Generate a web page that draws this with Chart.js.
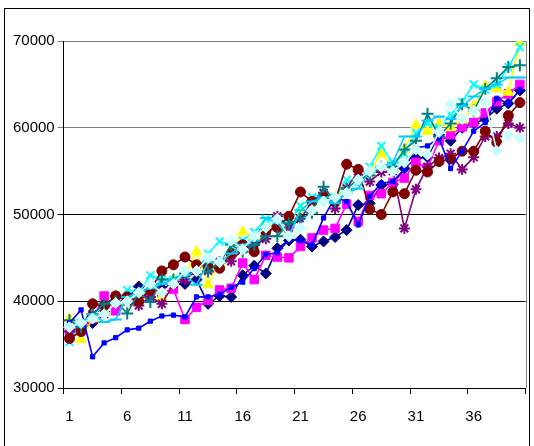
<!DOCTYPE html>
<html>
<head>
<meta charset="utf-8">
<script src="https://cdn.jsdelivr.net/npm/chart.js@4/dist/chart.umd.min.js"></script>
<style>
  html, body { margin: 0; padding: 0; background: #fff; }
  #wrap { width: 534px; height: 446px; position: relative; }
</style>
</head>
<body>
<div id="wrap"><canvas id="chart" width="534" height="446"></canvas></div>
<script>
// categories 1..40
const categories = ['1','2','3','4','5','6','7','8','9','10','11','12','13','14','15','16','17','18','19','20',
                    '21','22','23','24','25','26','27','28','29','30','31','32','33','34','35','36','37','38','39','40'];
const yTicks = [30000, 40000, 50000, 60000, 70000];

// series values
const navy = [37000, 36600, 37500, 38800, 39600, 40400, 41700, 41000, 41500, 42000, 42000, 42500, 39700, 40600, 40500, 43000, 44100, 43200, 46100, 47000,
              47100, 46300, 46900, 47400, 48200, 51100, 51300, 53400, 53500, 55300, 56500, 56600, 59200, 58500, 60000, 60500, 61000, 62200, 62800, 64300];
const magenta = [36500, 36700, 38000, 40600, 38900, 40000, 40500, 41000, 41000, 41400, 37900, 39300, 40100, 41300, 41500, 44400, 42500, 45300, 45100, 45000,
                 46300, 47300, 48200, 48400, 51200, 49200, 52200, 52400, 53700, 54200, 56000, 55400, 58500, 59200, 60100, 60600, 61700, 63000, 63900, 65000];
const yellow = [38000, 35600, 38000, 39000, 40000, 39900, 40500, 41500, 40500, 42500, 43000, 45700, 41900, 44500, 45500, 48000, 47500, 48500, 49000, 48000,
                50600, 51500, 52500, 52000, 53000, 54000, 55000, 57000, 55500, 57500, 60300, 59600, 60500, 60000, 60900, 62500, 64800, 64500, 64100, 69800];
const cyan = [35300, 37500, 38500, 39500, 40000, 41300, 41000, 43000, 42500, 42500, 43000, 43500, 45500, 46900, 46500, 47000, 48000, 49500, 49700, 49000,
              51000, 52000, 52500, 52000, 54000, 53800, 55500, 57900, 56000, 57000, 59400, 60500, 60000, 61500, 63000, 65000, 64400, 65000, 67000, 69300];
const purple = [36500, 37000, 38500, 38500, 40600, 40000, 39500, 40500, 39700, 42000, 42500, 43500, 43500, 44500, 44600, 46000, 46500, 47200, 49800, 48500,
                49500, 51500, 52500, 50700, 53000, 55000, 53800, 54900, 55000, 48400, 52900, 55500, 56500, 57000, 55200, 56600, 59000, 59000, 60500, 60000];
const maroon = [35700, 36500, 39700, 39500, 40600, 40500, 40000, 41300, 43500, 44200, 45100, 44200, 44000, 43800, 45500, 46500, 45700, 48000, 48500, 49800,
                52600, 51500, 52000, 51500, 55800, 55200, 50600, 50000, 52600, 52400, 55100, 54900, 56100, 56400, 57300, 57300, 59600, 58300, 61400, 62900];
const teal = [37800, 37000, 38500, 39700, 40000, 38600, 41000, 39900, 42500, 42500, 43200, 43500, 43400, 44500, 46500, 45700, 46500, 47500, 47500, 49000,
              49500, 50200, 53200, 51500, 53000, 54000, 54500, 55500, 55500, 57500, 58500, 61600, 59000, 60500, 62700, 62000, 64500, 65700, 67000, 67200];
const blue = [37500, 39000, 33600, 35200, 35800, 36700, 36900, 37700, 38300, 38400, 38200, 40500, 40500, 40800, 41600, 42200, 43800, 45400, 45600, 47100,
              47000, 46500, 49600, 52000, 51500, 48800, 52100, 53600, 53800, 55200, 57700, 57900, 58800, 55300, 57300, 59600, 60600, 63400, 62800, 64400];
const skyBlue = [37000, 37500, 38500, 37600, 37900, 40500, 41000, 41500, 42000, 42500, 43000, 41900, 44500, 44500, 45500, 46500, 47000, 49600, 49000, 47500,
                 50500, 51500, 52000, 51300, 52500, 53000, 55000, 55500, 56000, 59000, 59000, 60800, 61300, 61000, 62500, 63600, 64500, 65000, 65800, 65800];
const lightCyan = [37000, 37500, 38000, 38500, 39800, 40000, 41000, 42000, 41000, 42000, 43500, 43500, 45000, 44500, 47000, 46000, 47500, 48500, 49500, 47500,
                   48400, 50500, 51500, 52000, 52500, 54000, 55000, 55500, 55000, 56000, 57500, 56900, 59500, 62700, 61000, 62000, 63000, 57300, 59200, 58800];

// build one dataset (Excel style: line + marker in the same colour)
function series(data, color, style, radius, idx) {
    return {
        data: data,
        borderColor: color,
        backgroundColor: color,
        borderWidth: 1.6,
        pointStyle: style,
        pointRadius: radius,
        pointBorderColor: color,
        pointBackgroundColor: color,
        pointBorderWidth: (style === 'crossRot' || style === 'star' || style === 'cross' || style === 'line') ? 2 : 1,
        tension: 0,
        order: 10 - idx   // later series drawn on top, like Excel
    };
}

// white background and outer frame, gray right edge of plot
const framePlugin = {
    id: 'frame',
    beforeDraw(chart) {
        const ctx = chart.ctx;
        ctx.save();
        ctx.fillStyle = '#fff';
        ctx.fillRect(0, 0, chart.width, chart.height);
        ctx.strokeStyle = '#000';
        ctx.lineWidth = 1;
        ctx.strokeRect(4.5, 8.5, 525, 460);
        ctx.restore();
    },
    afterDatasetsDraw(chart) {
        const a = chart.chartArea;
        const ctx = chart.ctx;
        ctx.save();
        ctx.strokeStyle = '#808080';
        ctx.lineWidth = 1;
        ctx.beginPath();
        ctx.moveTo(Math.round(a.right) + 0.5, a.top);
        ctx.lineTo(Math.round(a.right) + 0.5, a.bottom);
        ctx.stroke();
        ctx.restore();
    }
};

const font = { family: '"Liberation Sans", Arial, sans-serif', size: 15 };

new Chart(document.getElementById('chart'), {
    type: 'line',
    data: {
        labels: categories,
        datasets: [
            series(navy, '#000080', 'rectRot', 5.5, 0),
            series(magenta, '#FF00FF', 'rect', 6, 1),
            series(yellow, '#FFFF00', 'triangle', 6, 2),
            series(cyan, '#00FFFF', 'crossRot', 5.5, 3),
            series(purple, '#800080', 'star', 5.5, 4),
            series(maroon, '#800000', 'circle', 5, 5),
            series(teal, '#008080', 'cross', 6, 6),
            series(blue, '#0000FF', 'rect', 3, 7),
            series(skyBlue, '#00CCFF', 'line', 6, 8),
            series(lightCyan, '#CCFFFF', 'rectRot', 5.5, 9)
        ]
    },
    options: {
        responsive: false,
        animation: false,
        layout: { padding: { left: 10, right: 7, top: 41, bottom: 6 } },
        plugins: {
            legend: { display: false },
            tooltip: { enabled: false }
        },
        scales: {
            x: {
                offset: true,
                grid: {
                    offset: true,
                    drawOnChartArea: false,
                    drawTicks: true,
                    tickLength: 6,
                    color: function(c) {
                        if (c.index === undefined) return '#000';
                        return c.index % 5 === 0 ? '#000' : 'rgba(0,0,0,0)';
                    }
                },
                border: { color: '#000', width: 1 },
                ticks: {
                    autoSkip: false,
                    maxRotation: 0,
                    color: '#000',
                    font: font,
                    padding: 14,
                    callback: function(v, i) { return i % 5 === 0 ? categories[i] : ''; }
                }
            },
            y: {
                min: yTicks[0],
                max: yTicks[yTicks.length - 1],
                afterBuildTicks: function(scale) { scale.ticks = yTicks.map(v => ({ value: v })); },
                grid: {
                    tickLength: 6,
                    color: function(c) {
                        return c.tick && c.tick.value >= 60000 ? '#808080' : '#000';
                    }
                },
                border: { color: '#000', width: 1 },
                ticks: {
                    color: '#000',
                    font: font,
                    padding: 3,
                    callback: function(v) { return String(v); }
                }
            }
        }
    },
    plugins: [framePlugin]
});
</script>
</body>
</html>
